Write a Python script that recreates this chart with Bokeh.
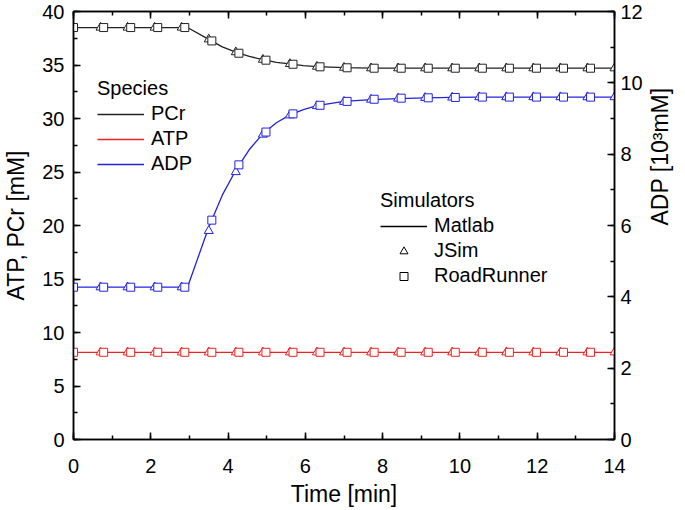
import math
from bokeh.plotting import figure
from bokeh.models import (Range1d, LinearAxis, Legend, LegendItem, FixedTicker)
from bokeh.embed import file_html
from bokeh.resources import INLINE

# ---------------- data ----------------
# Matlab (line) results
matlab_t = [0, 0.7, 1.4, 2.1, 2.8, 2.95, 3.5, 3.85, 4.2, 4.55, 4.9, 5.25, 5.6, 5.95, 6.3,
            7.0, 7.7, 8.4, 9.1, 9.8, 10.5, 11.2, 11.9, 12.6, 13.3, 14.0]
matlab_pcr = [38.5, 38.5, 38.5, 38.5, 38.5, 38.5, 37.4, 36.7, 36.2, 35.8, 35.5, 35.25, 35.1, 34.95, 34.85,
              34.75, 34.7, 34.7, 34.7, 34.7, 34.7, 34.7, 34.7, 34.7, 34.7, 34.7]
matlab_atp = [8.15] * 26
matlab_adp = [4.27, 4.27, 4.27, 4.27, 4.27, 4.27, 5.95, 6.85, 7.55, 8.13, 8.57, 8.88, 9.1, 9.25, 9.36,
              9.48, 9.53, 9.56, 9.58, 9.59, 9.6, 9.6, 9.6, 9.6, 9.6, 9.6]

# JSim (triangles)
jsim_t = [0, 0.7, 1.4, 2.1, 2.8, 3.5, 4.2, 4.9, 5.6, 6.3, 7.0, 7.7, 8.4, 9.1, 9.8,
          10.5, 11.2, 11.9, 12.6, 13.3, 14.0]
jsim_pcr = [38.5, 38.5, 38.5, 38.5, 38.5, 37.4, 36.2, 35.5, 35.1, 34.85, 34.75, 34.7, 34.7, 34.7, 34.7,
            34.7, 34.7, 34.7, 34.7, 34.7, 34.7]
jsim_atp = [8.15] * 21
jsim_adp = [4.27, 4.27, 4.27, 4.27, 4.27, 5.85, 7.5, 8.55, 9.09, 9.35, 9.47, 9.53, 9.56, 9.58, 9.59,
            9.6, 9.6, 9.6, 9.6, 9.6, 9.6]

# RoadRunner (squares)
rr_t = [0, 0.78, 1.48, 2.18, 2.88, 3.58, 4.28, 4.98, 5.68, 6.38, 7.08, 7.78, 8.48, 9.18, 9.88,
        10.58, 11.28, 11.98, 12.68, 13.38]
rr_pcr = [38.5, 38.5, 38.5, 38.5, 38.5, 37.25, 36.1, 35.45, 35.07, 34.83, 34.74, 34.7, 34.7, 34.7, 34.7,
          34.7, 34.7, 34.7, 34.7, 34.7]
rr_atp = [8.15] * 20
rr_adp = [4.27, 4.27, 4.27, 4.27, 4.27, 6.15, 7.7, 8.62, 9.13, 9.37, 9.48, 9.54, 9.57, 9.58, 9.59,
          9.6, 9.6, 9.6, 9.6, 9.6]

x_ticks = [0, 2, 4, 6, 8, 10, 12, 14]
left_ticks = [0, 5, 10, 15, 20, 25, 30, 35, 40]
right_ticks = [0, 2, 4, 6, 8, 10, 12]

BLACK = "#222222"
RED = "#ee2222"
BLUE = "#2222dd"
FONT = "Liberation Sans"
TICK_FS = "20px"
TITLE_FS = "23px"
LEG_FS = "20px"

p = figure(width=677, height=502, output_backend="svg", toolbar_location=None,
           x_range=Range1d(0, 14), y_range=Range1d(0, 40),
           frame_width=541, frame_height=428,
           min_border_left=69, min_border_right=60, min_border_top=11, min_border_bottom=60)
p.extra_y_ranges = {"adp": Range1d(0, 12)}
p.outline_line_color = "black"
p.outline_line_width = 1.5
p.xgrid.visible = False
p.ygrid.visible = False
p.background_fill_color = "white"
p.border_fill_color = "white"

def style_axis(ax, ticks, minor, label):
    ax.ticker = FixedTicker(ticks=ticks, minor_ticks=minor)
    ax.major_tick_in = 7
    ax.major_tick_out = 0
    ax.minor_tick_in = 4
    ax.minor_tick_out = 0
    ax.axis_line_color = "black"
    ax.axis_line_width = 1.5
    ax.major_tick_line_width = 1.5
    ax.minor_tick_line_width = 1.5
    ax.major_label_text_font = FONT
    ax.major_label_text_font_size = TICK_FS
    ax.major_label_text_color = "black"
    ax.axis_label = label
    ax.axis_label_text_font = FONT
    ax.axis_label_text_font_size = TITLE_FS
    ax.axis_label_text_font_style = "normal"
    ax.axis_label_text_color = "black"

style_axis(p.xaxis[0], x_ticks, [float(i) for i in range(15)], "Time [min]")
p.xaxis[0].major_label_standoff = 19
p.xaxis[0].axis_label_standoff = 5
style_axis(p.yaxis[0], left_ticks, [i * 2.5 for i in range(17)], "ATP, PCr [mM]")
p.yaxis[0].major_label_standoff = 9
p.yaxis[0].axis_label_standoff = 10

right = LinearAxis(y_range_name="adp")
style_axis(right, right_ticks, [float(i) for i in range(13)], "ADP [10³mM]")
right.major_label_standoff = 6
right.axis_label_standoff = 14
right.axis_label_orientation = math.pi / 2
p.add_layout(right, "right")

top = LinearAxis()
style_axis(top, x_ticks, [float(i) for i in range(15)], None)
top.major_label_overrides = {t: "" for t in x_ticks}
top.major_label_standoff = 0
p.add_layout(top, "above")

# lines
l_pcr = p.line(matlab_t, matlab_pcr, line_color=BLACK, line_width=1.3)
l_atp = p.line(matlab_t, matlab_atp, line_color=RED, line_width=1.3)
l_adp = p.line(matlab_t, matlab_adp, line_color=BLUE, line_width=1.3, y_range_name="adp")

# markers
p.scatter(jsim_t, jsim_pcr, marker="triangle", size=9, line_color=BLACK, fill_color="white", line_width=1)
p.scatter(jsim_t, jsim_atp, marker="triangle", size=9, line_color=RED, fill_color="white", line_width=1)
p.scatter(jsim_t, jsim_adp, marker="triangle", size=9, line_color=BLUE, fill_color="white", line_width=1,
          y_range_name="adp")
p.scatter(rr_t, rr_pcr, marker="square", size=8, line_color=BLACK, fill_color="white", line_width=1)
p.scatter(rr_t, rr_atp, marker="square", size=8, line_color=RED, fill_color="white", line_width=1)
p.scatter(rr_t, rr_adp, marker="square", size=8, line_color=BLUE, fill_color="white", line_width=1,
          y_range_name="adp")

# legend glyph-only renderers (small markers)
tri_leg = p.scatter([-10], [-10], marker="triangle", size=6, line_color="black", fill_color="white")
sq_leg = p.scatter([-10], [-10], marker="square", size=5, line_color="black", fill_color="white")
mat_leg = p.line([-10, -9], [-10, -10], line_color="black", line_width=1.3)

def make_legend(items, title, loc):
    lg = Legend(items=items, title=title, location=loc)
    lg.title_text_font = FONT
    lg.title_text_font_size = LEG_FS
    lg.title_text_font_style = "normal"
    lg.title_text_color = "black"
    lg.title_standoff = 2
    lg.label_text_font = FONT
    lg.label_text_font_size = LEG_FS
    lg.label_text_color = "black"
    lg.glyph_width = 47
    lg.glyph_height = 20
    lg.label_height = 20
    lg.label_standoff = 7
    lg.spacing = 2
    lg.padding = 0
    lg.margin = 0
    lg.border_line_color = None
    lg.background_fill_alpha = 0
    return lg

species = make_legend([LegendItem(label="PCr", renderers=[l_pcr]),
                       LegendItem(label="ATP", renderers=[l_atp]),
                       LegendItem(label="ADP", renderers=[l_adp])],
                      "Species", (24, 264))
sims = make_legend([LegendItem(label="Matlab", renderers=[mat_leg]),
                    LegendItem(label="JSim", renderers=[tri_leg]),
                    LegendItem(label="RoadRunner", renderers=[sq_leg])],
                   "Simulators", (307, 152))
p.add_layout(species)
p.add_layout(sims)

open("out.html", "w").write(file_html(p, INLINE))
